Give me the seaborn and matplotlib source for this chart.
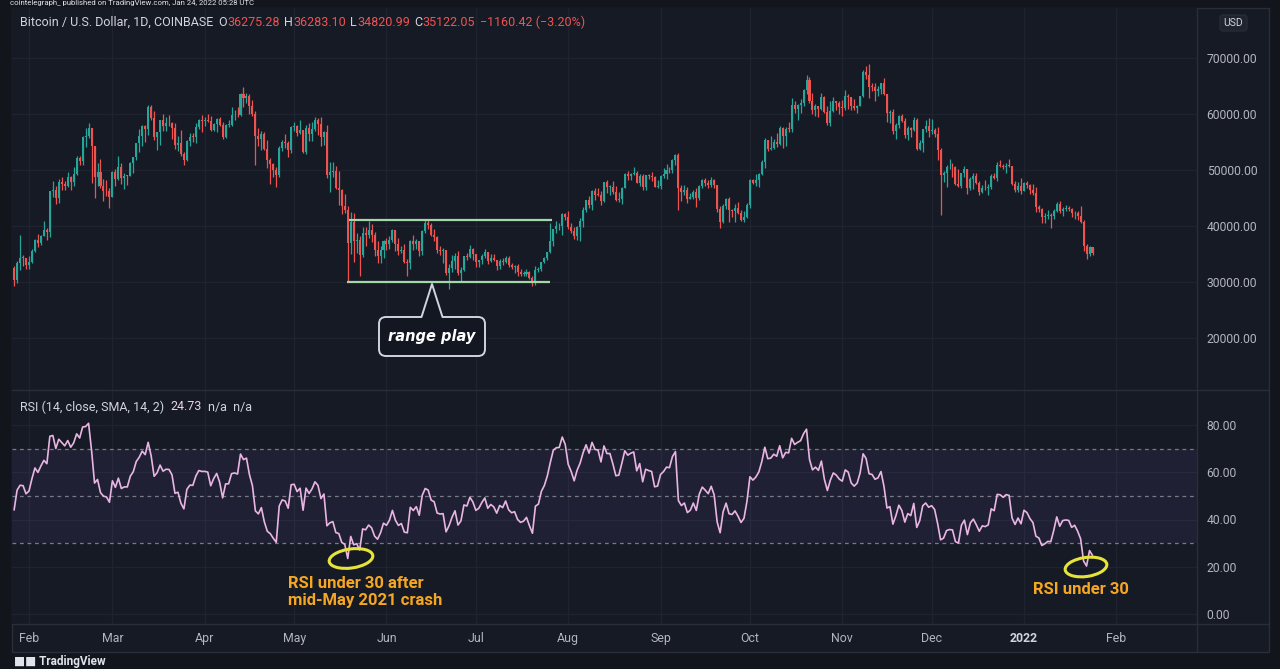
import numpy as np
import pandas as pd
import matplotlib
matplotlib.use("Agg")
import matplotlib.pyplot as plt
import seaborn as sns
from matplotlib.patches import Ellipse, FancyBboxPatch, Polygon, Rectangle
from matplotlib.lines import Line2D

# ---------------- data (BTC/USD daily, Coinbase) ----------------
# closes before the first visible candle (Dec 15 2020 .. Jan 26 2021), used only to seed the RSI
warmup_close = [19430, 21350, 22800, 23110, 23830, 23460, 22720, 23810, 23230, 23730,
                24710, 26490, 26280, 27080, 27390, 28880, 28950,
                29370, 32130, 32780, 31970, 33990, 36820, 39370, 40800, 40250, 38360,
                35570, 33920, 37320, 39190, 36830, 36180, 35790, 36630, 36070, 35550,
                30830, 33010, 32070, 32290, 32370, 32570]

FIRST_DATE = "2021-01-27"

c21_01 = [30433, 33467, 34316, 34270, 33114]
h21_01 = [32900, 33784, 38406, 34834, 34288]
l21_01 = [29241, 29842, 32064, 32940, 32270]

c21_02 = [33537, 35510, 37473, 36927, 38144, 39266, 38903, 46196, 46481, 44918, 47910, 47504, 47106, 48717,
          47945, 49199, 52149, 51679, 55888, 56099, 57539, 54208, 48825, 49705, 47093, 46339, 46188, 45137]
h21_02 = [34718, 35896, 37663, 38592, 38310, 40955, 39700, 46203, 48003, 47145, 48464, 48745, 48047, 49707,
          49010, 50623, 52533, 52474, 56113, 57506, 58330, 57534, 54204, 51290, 51948, 48370, 48254, 46716]
l21_02 = [32297, 33418, 35362, 36161, 36571, 38215, 37446, 38076, 45166, 43881, 44187, 46425, 46392, 47014,
          46365, 47225, 49072, 50901, 50938, 54108, 55672, 47600, 45000, 47213, 46700, 44454, 45270, 43241]

c21_03 = [49632, 48378, 50538, 48562, 48927, 48913, 51207, 52247, 54824, 56008, 57805, 57332, 61243, 59302, 55907, 56804,
          58870, 57858, 58346, 58313, 57523, 54529, 54738, 52774, 51704, 55137, 55974, 55947, 57750, 58918, 58800]
h21_03 = [49784, 50127, 52535, 51274, 49395, 49147, 51450, 52314, 54901, 57258, 58082, 58012, 61684, 61598, 60540, 56833,
          58970, 60073, 59468, 59880, 58589, 58408, 55985, 57200, 53229, 55400, 56568, 56611, 58406, 59060, 59800]
l21_03 = [45115, 47228, 48275, 47504, 46543, 47257, 48899, 49506, 51846, 53290, 54275, 55040, 56217, 58950, 55393, 53555,
          54528, 57023, 56938, 57921, 55604, 53785, 53470, 52552, 50856, 51683, 54243, 54922, 54877, 57355, 56769]

c21_04 = [58800, 58720, 57059, 58206, 59054, 58020, 55948, 58083, 58092, 59768, 59893, 59776, 63500, 62900, 63200,
          61400, 60050, 56150, 55600, 56450, 53800, 51700, 51150, 50050, 49050, 54000, 55050, 54850, 53550, 57700]
h21_04 = [59468, 60000, 59700, 58450, 59250, 59500, 58600, 58200, 58900, 61300, 60700, 61200, 63700, 64860, 63800,
          63500, 62500, 60500, 57500, 57000, 56700, 55400, 52100, 51200, 50500, 54300, 55400, 56400, 55150, 57900]
l21_04 = [57880, 58600, 56900, 57000, 56800, 57800, 55500, 55800, 57700, 57800, 59000, 59400, 59600, 61300, 62000,
          60000, 59600, 50900, 54200, 53500, 53600, 50400, 47500, 48800, 47000, 48800, 53400, 53900, 52400, 53100]

c21_05 = [57800, 56600, 57200, 53200, 57450, 56400, 57350, 58850, 58250, 55850, 56700, 49150, 49700, 49900, 46750, 46450,
          43550, 42900, 37000, 40750, 37300, 37500, 34750, 38700, 38400, 39300, 38450, 35700, 34600, 35650, 37300]
h21_05 = [58500, 57950, 58950, 57200, 57950, 58350, 58650, 59500, 59250, 59550, 57000, 58000, 51350, 51500, 50650, 49800,
          46600, 45800, 43550, 42500, 42250, 38800, 38250, 39900, 39800, 40900, 40400, 38850, 37250, 36450, 37500]
l21_05 = [57050, 56050, 56500, 53000, 52900, 55200, 55250, 56900, 56250, 54300, 54400, 48600, 46000, 48800, 46600, 43800,
          42100, 42300, 30000, 35000, 33500, 35250, 31100, 34400, 36450, 37800, 37200, 34700, 33400, 33450, 34200]

c21_06 = [36700, 37550, 39200, 36850, 35500, 35800, 33550, 33400, 37400, 36700, 37350, 35550, 39100, 40500, 40200,
          38350, 38050, 35800, 35600, 35650, 31650, 32500, 33700, 34650, 31600, 32200, 34650, 34450, 35850, 35050]
h21_06 = [37900, 38200, 39450, 39250, 37900, 36450, 36800, 34050, 37500, 38400, 37650, 37400, 39200, 41050, 41330,
          40450, 39550, 38200, 36450, 36100, 35750, 33300, 34850, 35250, 35600, 32700, 34700, 35250, 36600, 36000]
l21_06 = [35700, 35950, 37150, 35600, 34800, 35250, 33400, 31000, 32400, 35800, 35950, 34650, 34800, 38750, 39500,
          38150, 37400, 35150, 34850, 33400, 31300, 28800, 31700, 32350, 31300, 30200, 32000, 33900, 34250, 34000]

c21_07 = [33550, 33850, 34650, 35300, 33700, 34200, 33850, 32900, 33800, 33500, 34250, 33100, 32700, 32800, 31800, 31400,
          31500, 31800, 30800, 29800, 32100, 32300, 33600, 34250, 35400, 37300, 39450, 39950, 40000, 42200, 41600]
h21_07 = [35050, 33950, 34950, 35950, 35300, 35050, 35000, 33900, 34100, 34250, 34600, 34650, 33350, 33100, 33200, 32250,
          31950, 32400, 31900, 31050, 32850, 32600, 33650, 34500, 35400, 40550, 39550, 40900, 40600, 42300, 42400]
l21_07 = [32700, 32700, 33300, 34350, 33150, 33600, 33800, 32100, 32300, 33050, 33350, 32650, 32250, 31600, 31150, 31050,
          31150, 31150, 30500, 29300, 29500, 31700, 31950, 33400, 33850, 35250, 36400, 38800, 39300, 38350, 41100]

c21_08 = [39850, 39150, 38200, 39750, 40900, 42850, 44600, 43800, 46300, 45600, 45550, 44400, 47850, 47050, 47050, 46000,
          44700, 44800, 46750, 49350, 48900, 49300, 49550, 47700, 48950, 46900, 49050, 48900, 48800, 47050, 47150]
h21_08 = [42600, 40450, 39750, 39950, 41400, 43400, 44700, 45300, 46450, 46700, 46750, 46250, 47900, 48150, 47350, 47950,
          47100, 46000, 47050, 49400, 49750, 49500, 50500, 49850, 49300, 49350, 49150, 49300, 49650, 48900, 48250]
l21_08 = [39450, 38700, 37650, 37550, 37350, 39900, 42450, 43150, 42850, 44700, 45350, 43800, 44250, 45950, 45550, 45700,
          44400, 44250, 43950, 46700, 48300, 48150, 49050, 47600, 47150, 46350, 46400, 48400, 48000, 46900, 46750]

c21_09 = [48850, 49300, 50000, 49950, 51750, 52650, 46850, 46050, 46400, 44850, 45150, 46050, 44950, 47100, 48150,
          47750, 47300, 48300, 47250, 43000, 40700, 43550, 44900, 42850, 42700, 43200, 42250, 41050, 41550, 43800]
h21_09 = [49150, 50400, 51050, 50550, 51900, 52800, 52950, 47350, 47350, 47050, 45950, 46450, 46850, 47250, 48450,
          48500, 48150, 48800, 48350, 47350, 43600, 44000, 44950, 45150, 42950, 43950, 44350, 42800, 42600, 44100]
l21_09 = [46550, 48650, 48400, 49550, 49500, 50950, 42850, 44450, 45550, 44150, 44800, 44750, 43400, 44700, 46750,
          47100, 46800, 47050, 46850, 42550, 39600, 40550, 43100, 40700, 41650, 40800, 42100, 40900, 40800, 41450]

c21_10 = [48150, 47650, 48250, 49250, 51500, 55350, 53800, 53950, 54950, 54700, 57500, 56000, 57400, 57350, 61650, 60900,
          61550, 62050, 64300, 66000, 62250, 60700, 61350, 60900, 63050, 60350, 58450, 60600, 62250, 61900, 61300]
h21_10 = [48450, 48350, 49250, 49500, 51850, 55750, 55350, 56100, 55450, 56550, 57800, 57650, 57700, 58550, 62900, 62350,
          61700, 62650, 64450, 67000, 66650, 63750, 61750, 61450, 63700, 63300, 61500, 62400, 62950, 62300, 62400]
l21_10 = [43300, 47450, 47150, 46950, 49050, 50400, 53400, 53650, 53700, 54100, 54450, 53900, 54300, 56850, 56850, 60200,
          58950, 60100, 61350, 63500, 62050, 60000, 59700, 59550, 60700, 60100, 58050, 57850, 60350, 60700, 59950]

c21_11 = [61000, 63250, 62950, 61450, 61000, 61500, 63300, 67550, 66950, 64900, 64800, 64150, 64400, 65500, 63600,
          60150, 60350, 56900, 58100, 59700, 58700, 56300, 57550, 57150, 58950, 53700, 54750, 57300, 57800, 56950]
h21_11 = [62450, 64300, 63500, 63100, 62600, 61600, 63300, 67800, 68550, 69000, 65550, 65450, 64950, 65600, 66350,
          63600, 60750, 60950, 58400, 59850, 60000, 59300, 57900, 57750, 59450, 59200, 55300, 57400, 58850, 59200]
l21_11 = [59600, 60700, 60950, 60700, 60750, 60150, 61400, 63100, 66300, 62800, 64100, 62300, 63300, 63600, 63450,
          58600, 58400, 56500, 55600, 57450, 58500, 55650, 55300, 55850, 57050, 53550, 53650, 53300, 56700, 55900]

c21_12 = [57200, 56500, 53600, 49150, 49400, 50450, 50600, 50500, 47550, 47150, 49400, 50100, 46700, 48350, 48900, 47650,
          46150, 46850, 46700, 46900, 48900, 48600, 50850, 50800, 50450, 50800, 50700, 47550, 46450, 47150, 46200]
h21_12 = [59050, 57450, 57600, 53850, 49750, 50950, 51950, 51200, 50800, 50100, 49500, 50800, 50250, 48700, 49500, 49450,
          48000, 47350, 48300, 47550, 49350, 49550, 51350, 51850, 51150, 51250, 52050, 50700, 48100, 47900, 48550]
l21_12 = [56450, 55850, 51700, 42000, 47800, 46900, 50100, 48700, 47350, 46900, 46800, 48700, 45700, 46350, 46550, 47550,
          45500, 45950, 46450, 45600, 46650, 48450, 48100, 50450, 50200, 49450, 50450, 47350, 46100, 46050, 45700]

c22_01 = [47700, 47350, 46450, 45850, 43450, 43100, 41550, 41700, 41900, 41850, 42750, 43900,
          42600, 43100, 43150, 43100, 42250, 42400, 41700, 40700, 36450, 35050, 36275.28, 35122.05]
h22_01 = [47900, 47950, 47550, 47500, 47050, 43750, 43150, 42300, 42800, 42250, 43100, 44350,
          44450, 43450, 43800, 43500, 43200, 42700, 42600, 43500, 41100, 36850, 36500, 36283.10]
l22_01 = [46250, 46700, 45700, 45500, 42450, 42500, 40600, 40500, 41300, 39650, 41300, 42500,
          42350, 41750, 42600, 42650, 41550, 41300, 41150, 40600, 35500, 34050, 34650, 34820.99]

# axis tick values / labels
price_ticks = [20000, 30000, 40000, 50000, 60000, 70000]
rsi_ticks = [0, 20, 40, 60, 80]
month_labels = ["Feb", "Mar", "Apr", "May", "Jun", "Jul", "Aug", "Sep", "Oct", "Nov", "Dec", "2022", "Feb"]

# range-play drawing levels
range_top = 41000
range_bottom = 30000
range_start = "2021-05-19"
range_end = "2021-07-26"

# ---------------- colours ----------------
OUTER = "#13151C"
PANEL = "#161A25"
GRID = "#1F2330"
SEP = "#2A2E39"
TXT = "#B2B5BE"
HDR = "#D1D4DC"
GREEN = "#26A69A"
RED = "#EF5350"
RSI_COL = "#E9B6E3"
ORANGE = "#F5A623"
YELLOW = "#E6E43A"

sns.set_theme(style="dark")
plt.rcParams["font.family"] = ["Roboto", "DejaVu Sans"]
plt.rcParams["axes.unicode_minus"] = True

close = np.array(c21_01 + c21_02 + c21_03 + c21_04 + c21_05 + c21_06 + c21_07 + c21_08 + c21_09
                 + c21_10 + c21_11 + c21_12 + c22_01, dtype=float)
high = np.array(h21_01 + h21_02 + h21_03 + h21_04 + h21_05 + h21_06 + h21_07 + h21_08 + h21_09
                + h21_10 + h21_11 + h21_12 + h22_01, dtype=float)
low = np.array(l21_01 + l21_02 + l21_03 + l21_04 + l21_05 + l21_06 + l21_07 + l21_08 + l21_09
               + l21_10 + l21_11 + l21_12 + l22_01, dtype=float)
dates = pd.date_range(FIRST_DATE, periods=len(close), freq="D")
open_ = np.concatenate([[warmup_close[-1]], close[:-1]])
high = np.maximum(high, np.maximum(open_, close))
low = np.minimum(low, np.minimum(open_, close))

REF = pd.Timestamp("2021-02-01")
x = np.asarray((dates - REF).days, dtype=float)


def rsi_wilder(v, n=14):
    v = np.asarray(v, dtype=float)
    d = np.diff(v)
    g = np.where(d > 0, d, 0.0)
    lo = np.where(d < 0, -d, 0.0)
    ag = np.full(len(v), np.nan)
    al = np.full(len(v), np.nan)
    ag[n] = g[:n].mean()
    al[n] = lo[:n].mean()
    for i in range(n + 1, len(v)):
        ag[i] = (ag[i - 1] * (n - 1) + g[i - 1]) / n
        al[i] = (al[i - 1] * (n - 1) + lo[i - 1]) / n
    return 100 - 100 / (1 + ag / al)


rsi = rsi_wilder(np.concatenate([warmup_close, close]))[-len(close):]

# ---------------- figure ----------------
W, H = 1280, 669
fig = plt.figure(figsize=(W / 100, H / 100), dpi=100, facecolor=OUTER)


def fb(x0, y0, x1, y1):
    return [x0 / W, 1 - y1 / H, (x1 - x0) / W, (y1 - y0) / H]


# container background
fig.add_artist(Rectangle((12 / W, 1 - 652 / H), (1269 - 12) / W, (652 - 8) / H,
                         transform=fig.transFigure, fc=PANEL, ec=SEP, lw=1, zorder=-5))

ax = fig.add_axes(fb(12, 8, 1197, 390))
ax2 = fig.add_axes(fb(12, 390, 1197, 624))


def px2price(py):
    return 70000 - (py - 58) / 5.6 * 1000


def px2rsi(py):
    return 80 - (py - 425) / 2.3625


def px2day(px):
    return (px - 29) / 2.979


for a in (ax, ax2):
    a.set_facecolor(PANEL)
    for s in a.spines.values():
        s.set_visible(False)
    a.set_xlim(px2day(12), px2day(1197))
    a.grid(True, color=GRID, lw=1)
    a.set_axisbelow(True)
    a.yaxis.tick_right()
    a.tick_params(axis="y", length=0, pad=7, labelsize=8.7, labelcolor=TXT)

month_pos = np.asarray((pd.date_range("2021-02-01", "2022-02-01", freq="MS") - REF).days, dtype=float)
ax.set_xticks(month_pos)
ax.tick_params(axis="x", length=0, labelbottom=False)
ax2.set_xticks(month_pos)
ax2.set_xticklabels(month_labels)
ax2.tick_params(axis="x", length=0, pad=6, labelsize=8.9, labelcolor=TXT)
for t in ax2.get_xticklabels():
    if t.get_text() == "2022":
        t.set_fontweight("bold")
        t.set_color(HDR)

ax.set_ylim(px2price(390), px2price(8))
ax.set_yticks(price_ticks)
ax.set_yticklabels([f"{v:.2f}" for v in price_ticks])
ax2.set_ylim(px2rsi(624), px2rsi(390))
ax2.set_yticks(rsi_ticks)
ax2.set_yticklabels([f"{v:.2f}" for v in rsi_ticks])

# candles
up = close >= open_
cols = np.where(up, GREEN, RED)
ax.vlines(x, low, high, colors=cols, lw=0.9, zorder=3)
body_lo = np.minimum(open_, close)
body_h = np.maximum(np.abs(close - open_), 120)
ax.bar(x, body_h, bottom=body_lo, width=0.68, color=cols, lw=0, zorder=4)

# range lines
rs = (pd.Timestamp(range_start) - REF).days
re_ = (pd.Timestamp(range_end) - REF).days
ax.hlines([range_top], rs + 0.5, re_ + 0.5, color="#A5D6A7", lw=1.6, zorder=5)
ax.hlines([range_bottom], rs - 0.3, re_, color="#A5D6A7", lw=1.6, zorder=5)

# RSI panel
ax2.axhspan(30, 70, color="#7E57C2", alpha=0.10, lw=0, zorder=1)
for lvl in (70, 50, 30):
    ax2.axhline(lvl, color="#787B86", lw=0.9, ls=(0, (3, 3)), zorder=2)
sns.lineplot(x=x, y=rsi, ax=ax2, color=RSI_COL, lw=1.2, zorder=4)
ax2.set_xlabel("")
ax2.set_ylabel("")

# separators
for (x0, y0, x1, y1) in [(12, 390, 1269, 390), (12, 624, 1269, 624), (1197, 8, 1197, 652)]:
    fig.add_artist(Line2D([x0 / W, x1 / W], [1 - y0 / H, 1 - y1 / H], transform=fig.transFigure,
                          color=SEP, lw=1, zorder=6))

# ---------------- overlay (pixel coordinates) ----------------
ov = fig.add_axes([0, 0, 1, 1], zorder=10)
ov.set_xlim(0, W)
ov.set_ylim(H, 0)
ov.axis("off")
renderer = fig.canvas.get_renderer()


def seq_text(x0, y, parts, size):
    xx = x0
    for s, c, gap in parts:
        t = ov.text(xx, y, s, color=c, fontsize=size, va="center", ha="left")
        xx += t.get_window_extent(renderer).width + gap


ov.text(10, 0.5, "cointelegraph_ published on TradingView.com, Jan 24, 2022 05:28 UTC",
        color="#E0E3EB", fontsize=5.6, va="top", ha="left")

seq_text(20, 22, [("Bitcoin / U.S. Dollar, 1D, COINBASE", HDR, 5),
                  ("O", HDR, 0.5), ("36275.28", RED, 4),
                  ("H", HDR, 0.5), ("36283.10", RED, 4),
                  ("L", HDR, 0.5), ("34820.99", RED, 4),
                  ("C", HDR, 0.5), ("35122.05", RED, 5),
                  ("\u22121160.42 (\u22123.20%)", RED, 0)], 9)

ov.add_patch(FancyBboxPatch((1220, 15), 27, 16, boxstyle="round,pad=0,rounding_size=3",
                            fc="#20242F", ec="#2A2E39", lw=0.8))
ov.text(1233.5, 23, "USD", color=HDR, fontsize=7.5, ha="center", va="center")

seq_text(20, 407, [("RSI (14, close, SMA, 14, 2)", HDR, 6),
                   ("24.73", "#ECD3E8", 7),
                   ("n/a  n/a", HDR, 0)], 9)

# range play callout
ov.add_patch(FancyBboxPatch((379, 317), 106, 39, boxstyle="round,pad=0,rounding_size=7",
                            fc="#131722", ec=HDR, lw=1.4, zorder=5))
ov.add_patch(Polygon([(421.5, 318.2), (432, 284), (442.5, 318.2)], closed=True, fc="#131722", ec="none", zorder=6))
ov.add_line(Line2D([421.5, 432, 442.5], [317, 284, 317], color=HDR, lw=1.4, zorder=7))
ov.text(432, 337, "range play", color="white", fontsize=10.5, fontweight="bold", fontstyle="italic",
        family=["DejaVu Sans"], ha="center", va="center", zorder=8)

# RSI circles + notes
ov.add_patch(Ellipse((351, 558.5), 44, 19, angle=-8, fill=False, ec=YELLOW, lw=2.2, zorder=5))
ov.add_patch(Ellipse((1086, 567), 42, 19, angle=-8, fill=False, ec=YELLOW, lw=2.2, zorder=5))
ov.text(288, 583, "RSI under 30 after", color=ORANGE, fontsize=12, fontweight="bold", va="center", ha="left")
ov.text(288, 600, "mid-May 2021 crash", color=ORANGE, fontsize=12, fontweight="bold", va="center", ha="left")
ov.text(1033, 590, "RSI under 30", color=ORANGE, fontsize=12, fontweight="bold", va="center", ha="left")

ov.text(14, 667.5, "\u25A0\u25A0 TradingView", color="#E0E3EB", fontsize=8.5, fontweight="bold",
        va="bottom", ha="left")

fig.savefig("out.png", dpi=100, facecolor=OUTER)
